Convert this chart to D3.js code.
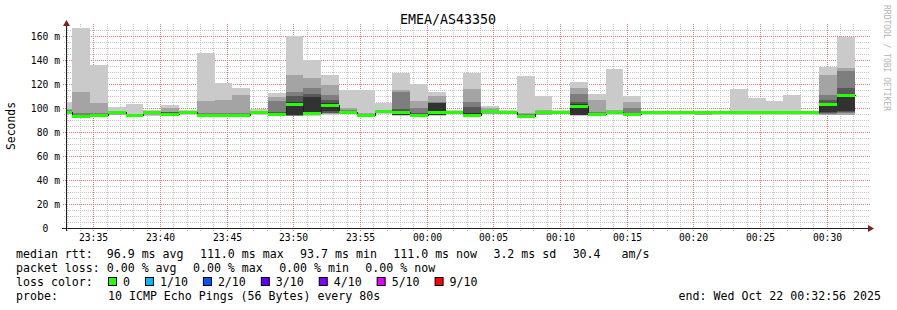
<!DOCTYPE html>
<html><head><meta charset="utf-8">
<script src="https://cdn.jsdelivr.net/npm/d3@7"></script>
<style>
html,body{margin:0;padding:0;background:#fff;}
svg text{font-family:"DejaVu Sans Mono",monospace;white-space:pre;}
</style></head><body>
<svg id="chart" width="897" height="310"></svg>
<script>
// ---------------- data ----------------
const title = "EMEA/AS43350";
const yAxisTitle = "Seconds";
const windowStart = "23:32:56";
const windowEnd = "00:32:56";
const stepSeconds = 80;
const stepStart = ["23:32:00","23:33:20","23:34:40","23:36:00","23:37:20","23:38:40","23:40:00","23:41:20","23:42:40","23:44:00",
  "23:45:20","23:46:40","23:48:00","23:49:20","23:50:40","23:52:00","23:53:20","23:54:40","23:56:00","23:57:20",
  "23:58:40","00:00:00","00:01:20","00:02:40","00:04:00","00:05:20","00:06:40","00:08:00","00:09:20","00:10:40",
  "00:12:00","00:13:20","00:14:40","00:16:00","00:17:20","00:18:40","00:20:00","00:21:20","00:22:40","00:24:00",
  "00:25:20","00:26:40","00:28:00","00:29:20","00:30:40"];
// sorted ping RTTs (ms) per step, rank 1 = fastest ... rank 10 = slowest
const ping1  = [95,93,93.2,93.8,93.3,93.6,93.7,94.2,93.5,93.5,93.5,94.3,93.8,93.2,93.7,94.5,95.3,93.3,95.3,93.6,93.7,93.6,95.3,93.7,94.6,95.8,93.4,93.8,95.6,93.6,94,94.3,94,94.2,94.3,94.2,94,94.3,94.5,93.8,94.3,93.8,94.5,93.8,93.8];
const ping2  = [95.5,93.3,93.4,94.5,93.5,94.5,94,94.8,93.7,93.8,93.8,95,94.2,93.4,94,95,95.8,93.5,95.8,93.8,94,93.8,95.8,93.9,95.3,96.2,93.6,94.5,96,93.8,94.3,94.8,94.2,95,95,95,94.5,95,94.7,94.6,95,94.6,95.2,94.3,94.5];
const ping3  = [96,93.5,93.6,95.3,93.6,95.2,94.3,95.3,93.9,94,94,95.5,94.6,93.6,94.3,95.5,96.3,93.6,96.3,94,94.2,94,96.2,94.1,96,96.5,93.7,95.3,96.4,94,94.6,95.3,94.4,95.8,95.8,95.8,95,95.8,95,95.4,95.7,95.4,95.8,95,95.5];
const ping4  = [96.5,93.6,93.8,95.8,93.7,95.8,94.6,95.8,94.1,94.3,94.3,96,95,93.8,94.8,96,96.7,93.8,96.7,94.2,94.5,94.2,96.6,94.4,96.5,96.8,93.8,96,96.7,94.2,94.9,96,94.7,96.3,96.3,96.3,95.6,96.3,96.2,96,96.2,96,96.2,95.8,96.5];
const ping5  = [96.8,93.8,94,96.2,93.8,96.2,95,96.2,94.4,94.6,94.6,96.4,95.3,94,95.5,97.5,97,94,97,94.5,94.8,94.5,96.9,94.8,97,97,93.9,96.8,96.9,94.5,95.2,96.5,95,96.6,96.6,96.6,96.2,96.6,96.6,96.5,96.6,96.5,96.5,96.3,97.5];
const ping6  = [97.2,94,94.5,96.5,94,96.5,95.5,96.4,94.8,95,94.9,96.6,95.8,104.7,109.4,104.5,97.3,94.2,97.3,97.8,95.3,103.8,97.1,96,97.3,97.1,94.1,97,97,103,95.5,96.8,95.5,96.7,96.7,96.7,96.6,96.7,96.8,96.8,96.8,96.8,96.8,104.5,112];
const ping7  = [97.5,94.5,95,96.7,94.2,96.7,96.4,96.6,95.2,95.3,95.2,96.8,97,110,112,107,97.6,94.6,97.5,99,96,104.5,97.2,101,97.6,97.2,94.4,97.2,97.1,105.3,96,97,96,96.8,96.8,96.8,96.7,96.8,96.9,96.9,96.9,96.9,96.9,106.7,116.4];
const ping8  = [98,95.5,95.8,97,94.5,96.9,97,96.9,96,96,96.2,97,105.8,113.6,116.7,110.8,98,95,97.7,113.5,100.3,105.3,97.4,105.3,98,97.3,94.8,97.5,97.2,111.7,97,97.3,100,96.9,96.9,96.9,96.8,96.9,97.1,97.1,97.1,97.1,97,110.8,130.8];
const ping9  = [99,113.6,103.9,97.5,95,97.2,100.3,97.2,106,106.7,111,97.5,109.4,127.5,124.7,119.5,100.3,96,98,115,105.8,110,97.6,115.8,100,97.5,96,98.5,97.4,116.4,106.7,98,105.3,97,97,97,96.9,97,97.5,97.3,97.3,97.4,97.2,127.5,133.6];
const ping10 = [105,166.5,135.8,100.6,103.6,98.5,102.5,98,145.8,120.6,116.4,99.5,112.7,160,139.7,127.5,115,115,104.4,129.4,120,113.6,98.3,129.4,101.7,98,127,110,98,122,111.7,132.5,110,97.2,97.2,97.2,97,97.2,115.8,108.6,105.8,110.8,97.3,134.4,159.4];
const median = [97,93.7,94,96.3,93.8,96.4,95,96.5,94.3,94.5,94.5,96.6,95,103,95.5,102.8,97,93.8,97.3,97,94.4,96.4,97,94.2,97.3,97,93.7,96.8,97,101.8,94.8,96.7,94.7,96.7,96.7,96.7,96.7,96.7,96.7,96.7,96.7,96.7,96.7,103.7,111];
const lossCount = [0,0,0,0,0,0,0,0,0,0,0,0,0,0,0,0,0,0,0,0,0,0,0,0,0,0,0,0,0,0,0,0,0,0,0,0,0,0,0,0,0,0,0,0,0];

const yTickValues = [0,20,40,60,80,100,120,140,160];
const yTickLabels = ["0","20 m","40 m","60 m","80 m","100 m","120 m","140 m","160 m"];
const xTickLabels = ["23:35","23:40","23:45","23:50","23:55","00:00","00:05","00:10","00:15","00:20","00:25","00:30"];

const lossLevels = [0,1,2,3,4,5,9];
const lossLabels = ["0","1/10","2/10","3/10","4/10","5/10","9/10"];
const lossColors = ["#26ff00","#00b8ff","#0059ff","#5e00ff","#7e00ff","#dd00ff","#ff0000"];

const medianItems = ["median rtt:  96.9 ms avg","111.0 ms max","93.7 ms min","111.0 ms now","3.2 ms sd","30.4   am/s"];
const lossItems = ["packet loss: 0.00 % avg","0.00 % max","0.00 % min","0.00 % now"];
const lossColorTitle = "loss color:";
const probeTitle = "probe:";
const probeText = "10 ICMP Echo Pings (56 Bytes) every 80s";
const endText = "end: Wed Oct 22 00:32:56 2025";
const watermark = "RRDTOOL / TOBI OETIKER";

// ---------------- drawing ----------------
const toSec = s => { const [h,m,sc=0] = s.split(":").map(Number); let v = h*3600+m*60+sc; if (h < 12) v += 86400; return v; };
const svg = d3.select("#chart");
svg.append("rect").attr("width",897).attr("height",310).attr("fill","#ffffff");

const t0 = toSec(windowStart), t1 = toSec(windowEnd);
const x = d3.scaleLinear().domain([t0, t1]).range([67, 867]);
const y = d3.scaleLinear().domain([0, 170]).range([228, 24]);
const gx = t => Math.round(x(t) - 1.2);   // grid/label pixel column

const pings = [ping1,ping2,ping3,ping4,ping5,ping6,ping7,ping8,ping9,ping10];
const steps = stepStart.map((s,i) => {
  const a = toSec(s);
  return {a: Math.max(a,t0), b: Math.min(a+stepSeconds,t1), p: pings.map(arr => arr[i]), med: median[i], loss: lossCount[i]};
});

// grid drawn as dotted paths (1px on, 1px off)
const gridMinor = "#c6c6c6", gridMajor = "#e97a7a";
const vTimes = d3.range(Math.ceil(t0/60)*60, t1, 60).map(t => ({t, major: Math.round(t) % 300 === 0}));
const hVals = d3.range(5, 170, 5).map(v => ({v, major: v % 20 === 0}));
function dotsV(px, yA, yB){ let s=""; for (let yy=yA; yy<=yB; yy+=2) s += `M${px},${yy}h1v1h-1Z`; return s; }
function dotsH(py, xA, xB){ let s=""; for (let xx=xA; xx<=xB; xx+=2) s += `M${xx},${py}h1v1h-1Z`; return s; }
const grid = svg.append("g").attr("shape-rendering","crispEdges");
[false,true].forEach(maj => {
  let dPath = "";
  hVals.filter(d => d.major === maj).forEach(d => { dPath += dotsH(Math.round(y(d.v)), maj ? 63 : 64, maj ? 869 : 868); });
  vTimes.filter(d => d.major === maj).forEach(d => { dPath += dotsV(gx(d.t), 24, maj ? 231 : 230); });
  grid.append("path").attr("d", dPath).attr("fill", maj ? gridMajor : gridMinor);
});

// smoke
const half = 5;
const smokeColor = i => { const c = Math.floor(190/half*(half-i))+50; const h = c.toString(16).padStart(2,"0"); return "#"+h+h+h; };
const smoke = svg.append("g").attr("shape-rendering","crispEdges");
for (let i = 1; i <= half; i++) {
  smoke.append("g").selectAll("rect").data(steps).join("rect")
    .attr("x", d => x(d.a)).attr("width", d => x(d.b)-x(d.a))
    .attr("y", d => y(d.p[pings.length-i])).attr("height", d => y(d.p[i-1]) - y(d.p[pings.length-i]))
    .attr("fill", smokeColor(i));
}
// median step line
const medPts = [];
steps.forEach(d => { medPts.push([d.a,d.med]); medPts.push([d.b,d.med]); });
svg.append("path").attr("d", d3.line().x(d=>Math.round(x(d[0]))+0.5).y(d=>Math.round(y(d[1]))+0.5)(medPts))
  .attr("fill","none").attr("stroke","#202020").attr("stroke-width",1).attr("shape-rendering","crispEdges");
const colorFor = l => { let c = lossColors[0]; lossLevels.forEach((lv,k) => { if (l >= lv) c = lossColors[k]; }); return c; };
svg.append("g").attr("shape-rendering","crispEdges").selectAll("rect").data(steps).join("rect")
  .attr("x", d => x(d.a)).attr("width", d => x(d.b)-x(d.a))
  .attr("y", d => Math.round(y(d.med))-1).attr("height", 3)
  .attr("fill", d => colorFor(d.loss));

// axes
const axisColor = "#1f1f1f", arrowColor = "#801f1f";
svg.append("line").attr("x1",62).attr("x2",869).attr("y1",228.5).attr("y2",228.5).attr("stroke",axisColor);
svg.append("line").attr("x1",66.5).attr("x2",66.5).attr("y1",231).attr("y2",22).attr("stroke",axisColor);
svg.append("path").attr("d","M63,26L70,26L66.5,20Z").attr("fill",arrowColor);
svg.append("path").attr("d","M868,225L868,232L874,228.5Z").attr("fill",arrowColor);

// y tick labels
svg.append("g").selectAll("text").data(yTickValues).join("text")
  .attr("x", 60).attr("y", d => y(d)+3.5).attr("text-anchor","end")
  .attr("font-size","9.7px").attr("fill","#000")
  .text((d,i) => yTickLabels[i].includes(" ") ? yTickLabels[i] : yTickLabels[i]+"  ");
// x tick labels
svg.append("g").selectAll("text").data(xTickLabels).join("text")
  .attr("x", d => gx(toSec(d))+0.5).attr("y", 241).attr("text-anchor","middle")
  .attr("font-size","9.7px").attr("fill","#000").text(d => d);

// titles
svg.append("text").attr("x",448).attr("y",24).attr("text-anchor","middle").attr("font-size","13.3px").attr("fill","#000").text(title);
svg.append("text").attr("transform","translate(15,126) rotate(-90)").attr("text-anchor","middle")
  .attr("font-size","11.4px").attr("fill","#000").text(yAxisTitle);
svg.append("text").attr("transform","translate(884,5) rotate(90)").attr("text-anchor","start")
  .attr("font-size","8px").attr("fill","#b4b4b4").text(watermark);

// legend (rrdtool-like flow: items separated by a fixed glue)
const lf = "11.6px", cw = 6.98, glue = 16.4;
function flow(items, yy){
  let cx = 16;
  items.forEach(s => { svg.append("text").attr("x",cx).attr("y",yy).attr("font-size",lf).attr("fill","#000").text(s); cx += s.length*cw + glue; });
}
flow(medianItems, 258);
flow(lossItems, 272);
svg.append("text").attr("x",16).attr("y",286).attr("font-size",lf).attr("fill","#000").text(lossColorTitle);
let bx = 108;
lossLabels.forEach((lab,k) => {
  svg.append("rect").attr("x",bx+0.5).attr("y",277.5).attr("width",8).attr("height",8)
    .attr("fill",lossColors[k]).attr("stroke","#000").attr("stroke-width",1);
  svg.append("text").attr("x",bx+15).attr("y",286).attr("font-size",lf).attr("fill","#000").text(lab);
  bx += 15 + lab.length*cw + 15;
});
svg.append("text").attr("x",16).attr("y",300).attr("font-size",lf).attr("fill","#000").text(probeTitle);
svg.append("text").attr("x",108).attr("y",300).attr("font-size",lf).attr("fill","#000").text(probeText);
svg.append("text").attr("x",881).attr("y",300).attr("text-anchor","end").attr("font-size",lf).attr("fill","#000").text(endText);
</script>
</body></html>
